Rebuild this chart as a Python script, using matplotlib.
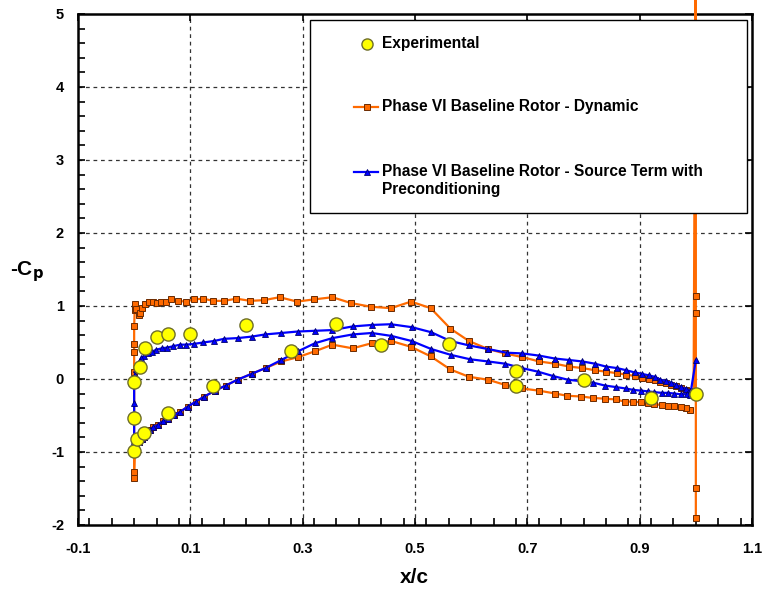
import matplotlib
matplotlib.use("Agg")
import matplotlib.pyplot as plt
from matplotlib.patches import Rectangle
from matplotlib.ticker import MultipleLocator

plt.rcParams['font.family'] = ['Liberation Sans', 'DejaVu Sans']
plt.rcParams['axes.unicode_minus'] = False

# Experimental pressure taps
exp_x = [0.0, 0.0, 0.0, 0.005, 0.01, 0.02, 0.018, 0.04, 0.06, 0.06, 0.10, 0.14,
         0.20, 0.28, 0.36, 0.44, 0.56, 0.68, 0.68, 0.80, 0.92, 1.0]
exp_cp = [-0.53, -0.04, -0.98, -0.82, 0.17, 0.42, -0.74, 0.58, 0.61, -0.46, 0.62, -0.09,
          0.74, 0.38, 0.75, 0.46, 0.48, 0.11, -0.09, -0.02, -0.26, -0.20]

# Dynamic case: lower surface (LE -> TE)
dyn_lower_x = [0.0, 0.0, 0.001, 0.004, 0.009, 0.014, 0.018, 0.023, 0.028, 0.034, 0.042,
               0.051, 0.06, 0.071, 0.082, 0.095, 0.11, 0.125, 0.144, 0.163, 0.184, 0.209,
               0.234, 0.262, 0.292, 0.322, 0.353, 0.389, 0.423, 0.458, 0.493, 0.528, 0.563,
               0.596, 0.630, 0.66, 0.69, 0.721, 0.75, 0.771, 0.796, 0.817, 0.838, 0.857,
               0.873, 0.888, 0.903, 0.915, 0.926, 0.939, 0.95, 0.962, 0.974, 0.983, 0.99]
dyn_lower_cp = [-1.36, -1.27, -0.99, -0.91, -0.87, -0.82, -0.79, -0.74, -0.70, -0.66, -0.63,
                -0.58, -0.55, -0.50, -0.45, -0.38, -0.31, -0.24, -0.16, -0.09, -0.01, 0.07,
                0.15, 0.24, 0.30, 0.38, 0.47, 0.42, 0.49, 0.52, 0.44, 0.31, 0.13,
                0.03, -0.01, -0.08, -0.13, -0.16, -0.20, -0.23, -0.24, -0.26, -0.27, -0.28,
                -0.31, -0.31, -0.32, -0.33, -0.34, -0.36, -0.37, -0.37, -0.39, -0.40, -0.43]

# Dynamic case: upper surface (LE -> TE)
dyn_upper_x = [0.0, 0.0, 0.0, 0.0, 0.001, 0.0015, 0.004, 0.009, 0.01, 0.014, 0.019, 0.027,
               0.034, 0.04, 0.047, 0.057, 0.065, 0.078, 0.092, 0.106, 0.123, 0.141, 0.160,
               0.182, 0.207, 0.231, 0.259, 0.290, 0.320, 0.353, 0.386, 0.421, 0.457, 0.493,
               0.528, 0.563, 0.596, 0.630, 0.66, 0.691, 0.721, 0.749, 0.774, 0.798, 0.820,
               0.84, 0.859, 0.876, 0.892, 0.904, 0.916, 0.927, 0.937, 0.947, 0.956, 0.965,
               0.974, 0.983, 0.99, 0.996]
dyn_upper_cp = [0.09, 0.37, 0.48, 0.72, 0.94, 1.03, 0.96, 0.87, 0.91, 0.97, 1.03, 1.05,
                1.06, 1.04, 1.05, 1.06, 1.09, 1.07, 1.06, 1.09, 1.10, 1.07, 1.07,
                1.10, 1.07, 1.08, 1.12, 1.06, 1.09, 1.12, 1.04, 0.99, 0.97, 1.06,
                0.97, 0.69, 0.52, 0.41, 0.35, 0.30, 0.24, 0.21, 0.17, 0.15, 0.12,
                0.10, 0.08, 0.06, 0.04, 0.02, 0.00, -0.02, -0.04, -0.06, -0.08, -0.10,
                -0.12, -0.15, -0.17, -0.20]

# Dynamic case: trailing-edge points
dyn_te_x = [1.0, 1.0, 1.0, 1.0, 1.0]
dyn_te_cp = [7.0, 1.14, 0.90, -1.49, -1.90]

# Source term with preconditioning: upper surface (LE -> TE)
src_upper_x = [0.0, 0.0, 0.0, 0.0, 0.0, 0.001, 0.004, 0.007, 0.010, 0.013, 0.018, 0.024,
               0.031, 0.039, 0.049, 0.059, 0.07, 0.082, 0.093, 0.106, 0.123, 0.142, 0.16,
               0.184, 0.209, 0.233, 0.262, 0.291, 0.322, 0.353, 0.389, 0.423, 0.457, 0.494,
               0.529, 0.563, 0.596, 0.63, 0.663, 0.691, 0.721, 0.749, 0.774, 0.798, 0.82,
               0.84, 0.859, 0.876, 0.891, 0.904, 0.916, 0.927, 0.937, 0.947, 0.956, 0.965,
               0.974, 0.983, 0.99, 0.996]
src_upper_cp = [-0.98, -0.85, -0.48, -0.33, -0.05, 0.05, 0.14, 0.19, 0.25, 0.29, 0.32, 0.35,
                0.37, 0.40, 0.42, 0.43, 0.45, 0.47, 0.47, 0.48, 0.50, 0.52, 0.55,
                0.56, 0.58, 0.61, 0.63, 0.65, 0.66, 0.67, 0.72, 0.74, 0.75, 0.71,
                0.64, 0.52, 0.46, 0.41, 0.36, 0.35, 0.32, 0.28, 0.26, 0.24, 0.21,
                0.17, 0.15, 0.12, 0.09, 0.07, 0.05, 0.03, -0.01, -0.03, -0.05, -0.08,
                -0.11, -0.14, -0.16, -0.17]

# Source term with preconditioning: lower surface (LE -> TE)
src_lower_x = [0.004, 0.009, 0.014, 0.018, 0.023, 0.028, 0.034, 0.042, 0.051, 0.06, 0.071,
               0.082, 0.095, 0.11, 0.125, 0.144, 0.163, 0.184, 0.209, 0.234, 0.262, 0.292,
               0.322, 0.353, 0.389, 0.423, 0.458, 0.494, 0.529, 0.564, 0.598, 0.630, 0.66,
               0.69, 0.719, 0.746, 0.772, 0.795, 0.817, 0.838, 0.857, 0.875, 0.889, 0.903,
               0.915, 0.926, 0.939, 0.95, 0.962, 0.974, 0.985, 0.99, 1.0]
src_lower_cp = [-0.91, -0.87, -0.82, -0.79, -0.74, -0.70, -0.66, -0.63, -0.58, -0.55, -0.50,
                -0.45, -0.38, -0.31, -0.24, -0.16, -0.09, -0.01, 0.07, 0.15, 0.26, 0.38,
                0.49, 0.56, 0.61, 0.63, 0.59, 0.52, 0.41, 0.33, 0.27, 0.24, 0.21,
                0.15, 0.10, 0.04, -0.01, -0.03, -0.05, -0.09, -0.11, -0.13, -0.15, -0.16,
                -0.17, -0.18, -0.19, -0.19, -0.20, -0.21, -0.21, -0.22, 0.26]

x_ticks = [-0.1, 0.1, 0.3, 0.5, 0.7, 0.9, 1.1]
x_tick_labels = ['-0.1', '0.1', '0.3', '0.5', '0.7', '0.9', '1.1']
y_ticks = [-2, -1, 0, 1, 2, 3, 4, 5]

legend_labels = ['Experimental', 'Phase VI Baseline Rotor - Dynamic',
                 'Phase VI Baseline Rotor - Source Term with', 'Preconditioning']

ORANGE = '#FF6A00'
ORANGE_EDGE = '#6B2A00'
BLUE = '#0000FF'
BLUE_EDGE = '#00006B'
YELLOW = '#FFFF00'
YELLOW_EDGE = '#6E6E2A'

fig = plt.figure(figsize=(7.63, 5.92), dpi=100)
ax = fig.add_axes([0.1022, 0.1132, 0.8834, 0.8632])

# Dynamic: TE -> LE along lower surface, LE -> TE along upper, then TE spike
dyn_x = dyn_lower_x[::-1] + dyn_upper_x + dyn_te_x
dyn_cp = dyn_lower_cp[::-1] + dyn_upper_cp + dyn_te_cp
dyn_style = dict(color=ORANGE, lw=1.6, marker='s', ms=4.2,
                 mfc=ORANGE, mec=ORANGE_EDGE, mew=0.7)
ax.plot(dyn_x, dyn_cp, clip_on=False, zorder=3, **dyn_style)

# Source term: TE -> LE along upper surface, LE -> TE along lower
src_x = src_upper_x[::-1] + src_lower_x
src_cp = src_upper_cp[::-1] + src_lower_cp
src_style = dict(color=BLUE, lw=1.6, marker='^', ms=5,
                 mfc=BLUE, mec=BLUE_EDGE, mew=0.6)
ax.plot(src_x, src_cp, zorder=4, **src_style)

ax.scatter(exp_x, exp_cp, s=90, facecolor=YELLOW, edgecolor=YELLOW_EDGE,
           linewidth=1.0, zorder=5)

ax.set_xlim(-0.1, 1.1)
ax.set_ylim(-2, 5)
ax.set_xticks(x_ticks)
ax.set_xticklabels(x_tick_labels)
ax.set_yticks(y_ticks)
ax.xaxis.set_minor_locator(MultipleLocator(0.04))
ax.yaxis.set_minor_locator(MultipleLocator(0.2))
ax.tick_params(which='both', direction='in', width=1.2, length=5)
ax.tick_params(which='major', top=True, right=True)
ax.tick_params(axis='x', which='major', pad=12)
ax.tick_params(axis='y', which='major', pad=10)
for lbl in ax.get_xticklabels() + ax.get_yticklabels():
    lbl.set_fontsize(10.5)
    lbl.set_fontweight('bold')
for sp in ax.spines.values():
    sp.set_linewidth(1.8)

for gx in [0.1, 0.3, 0.5, 0.7, 0.9]:
    ax.axvline(gx, color='#333333', lw=0.9, ls=(0, (3, 3)), zorder=1)
for gy in [-1, 0, 1, 2, 3, 4]:
    ax.axhline(gy, color='#333333', lw=0.9, ls=(0, (3, 3)), zorder=1)

fig.text(0.036, 0.541, r'-C$_\mathbf{p}$', fontsize=15, fontweight='bold',
         ha='center', va='center')
fig.text(0.543, 0.024, 'x/c', fontsize=15, fontweight='bold',
         ha='center', va='center')

# Legend box, drawn in axes coordinates
T = ax.transAxes
ax.add_patch(Rectangle((0.3442, 0.6106), 0.6484, 0.3777, transform=T,
                       facecolor='white', edgecolor='black', lw=1.0, zorder=10))
hx0, hx1, hxm, tx = 0.4095, 0.4451, 0.4288, 0.4510
row_y = [0.9413, 0.8180, 0.6908]
ax.plot([hxm], [row_y[0]], transform=T, ls='none', marker='o', ms=8,
        mfc=YELLOW, mec=YELLOW_EDGE, mew=1.0, zorder=11)
ax.plot([hx0, hxm, hx1], [row_y[1]] * 3, transform=T, markevery=[1], zorder=11,
        **{**dyn_style, 'ms': 4.0})
ax.plot([hx0, hxm, hx1], [row_y[2]] * 3, transform=T, markevery=[1], zorder=11,
        **{**src_style, 'ms': 4.5})
text_y = row_y + [0.6556]
for ty, txt in zip(text_y, legend_labels):
    ax.text(tx, ty, txt, transform=T, fontsize=11.2, fontweight='bold',
            ha='left', va='center', zorder=12)

fig.savefig('out.png', dpi=100)
